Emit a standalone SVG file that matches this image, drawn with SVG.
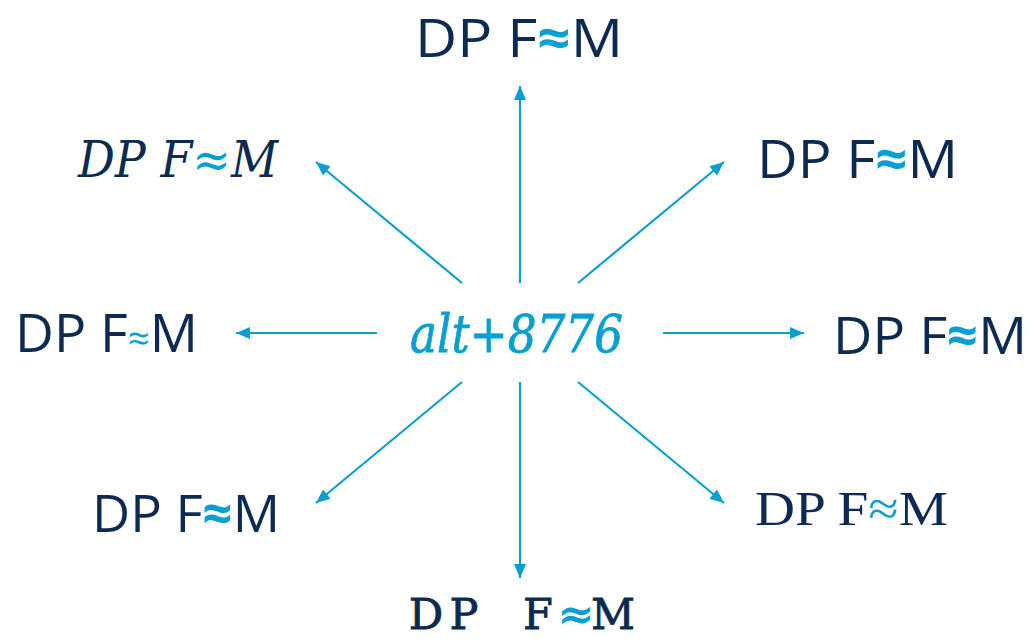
<svg xmlns="http://www.w3.org/2000/svg" width="1032" height="639" viewBox="0 0 1032 639">
<style>
.lbl{fill:#0c2a52;}
.ap{fill:#0a9fd3;}
.sans{font-family:"Open Sans","DejaVu Sans",sans-serif;}
.serif{font-family:"Liberation Serif",serif;}
.slabmono{font-family:"DejaVu Serif",serif;text-anchor:middle;}
.script{font-family:"DejaVu Serif",serif;font-style:italic;}
.conn{stroke:#0a9fd3;stroke-width:2.2;fill:none;marker-end:url(#ah);}
</style>
<defs>
<marker id="ah" markerUnits="userSpaceOnUse" markerWidth="16" markerHeight="16" viewBox="0 0 16 16" refX="15" refY="8" orient="auto">
<path d="M1,2 L15,8 L1,14 Z" fill="#0a9fd3"/>
</marker>
</defs>
<rect width="1032" height="639" fill="#ffffff"/>
<g id="connectors">
<line class="conn" x1="520" y1="283" x2="520" y2="86"/>
<line class="conn" x1="520" y1="382" x2="520" y2="578"/>
<line class="conn" x1="377" y1="333" x2="236" y2="333"/>
<line class="conn" x1="663" y1="333" x2="804" y2="333"/>
<line class="conn" x1="462" y1="283" x2="316" y2="162"/>
<line class="conn" x1="578" y1="283" x2="724" y2="162"/>
<line class="conn" x1="462" y1="382" x2="316" y2="503"/>
<line class="conn" x1="578" y1="382" x2="724" y2="503"/>
</g>
<g id="center">
<text x="410" y="352" font-family="DejaVu Serif, serif" font-style="italic" font-size="52" fill="#0a9fd3" stroke="#0a9fd3" stroke-width="0.8" textLength="213" lengthAdjust="spacingAndGlyphs">alt+8776</text>
</g>
<g id="node-top">
<text class="lbl sans" x="415" y="57" font-size="53" textLength="208" lengthAdjust="spacingAndGlyphs">DP F<tspan class="ap" font-weight="bold">≈</tspan>M</text>
</g>
<g id="node-upper-left">
<text class="lbl script" x="78" y="177" font-size="50" textLength="200" lengthAdjust="spacingAndGlyphs">DP F<tspan class="ap">≈</tspan>M</text>
</g>
<g id="node-upper-right">
<text class="lbl sans" x="757" y="178" font-size="53" textLength="201" lengthAdjust="spacingAndGlyphs">DP F<tspan class="ap" font-weight="bold">≈</tspan>M</text>
</g>
<g id="node-left">
<text class="lbl sans" x="15" y="352" font-size="53" textLength="183" lengthAdjust="spacingAndGlyphs">DP F<tspan class="ap" font-size="38">≈</tspan>M</text>
</g>
<g id="node-right">
<text class="lbl sans" x="833" y="354" font-size="52" textLength="194" lengthAdjust="spacingAndGlyphs">DP F<tspan class="ap" font-weight="bold">≈</tspan>M</text>
</g>
<g id="node-lower-left">
<text class="lbl sans" x="92" y="532" font-size="52" textLength="188" lengthAdjust="spacingAndGlyphs">DP F<tspan class="ap" font-weight="bold">≈</tspan>M</text>
</g>
<g id="node-lower-right">
<text class="lbl serif" x="755" y="525" font-size="49" textLength="193" lengthAdjust="spacingAndGlyphs">DP F<tspan class="ap">≈</tspan>M</text>
</g>
<g id="node-bottom">
<text class="lbl slabmono" x="426 464 501 538 576 613" y="629" font-size="43" stroke="#0c2a52" stroke-width="0.8">DP F<tspan class="ap" stroke="#0a9fd3" stroke-width="1.2">≈</tspan>M</text>
</g>
</svg>
